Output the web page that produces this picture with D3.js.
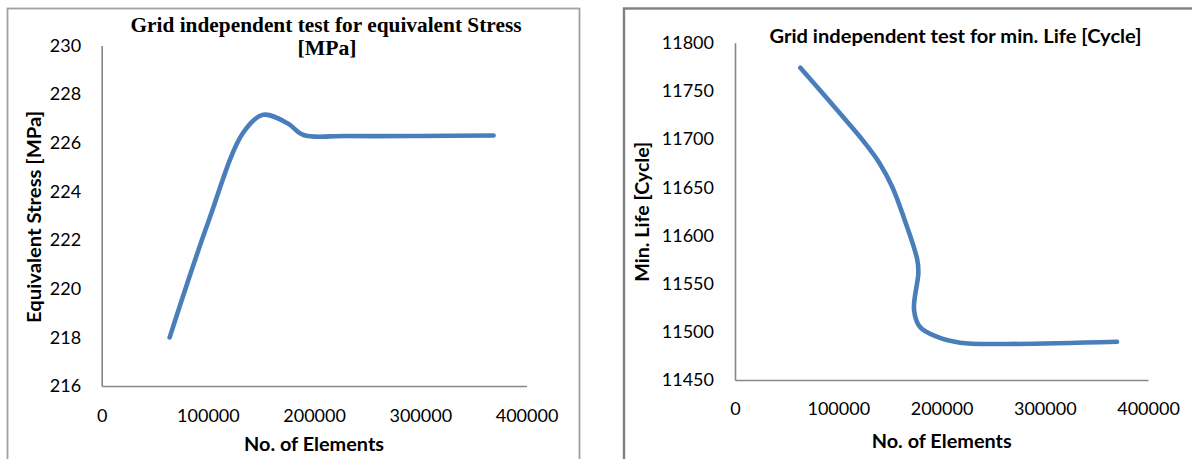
<!DOCTYPE html>
<html>
<head>
<meta charset="utf-8">
<script src="https://cdn.jsdelivr.net/npm/d3@7"></script>
<style>
  html, body { margin: 0; padding: 0; background: #ffffff; }
  svg { display: block; }
  .tick text { font-family: Lato, "Open Sans", sans-serif; font-size: 18px; fill: #000; }
</style>
</head>
<body>
<svg id="chart" width="1192" height="459"></svg>
<script>
// Mesh-convergence study: equivalent stress and minimum fatigue life vs. element count
const xTicks = [0, 100000, 200000, 300000, 400000];

const stressElements = [64000, 100000, 133000, 152000, 175000, 190000, 230000, 300000, 369000];
const stressValues   = [218, 222.7, 226.4, 227.15, 226.8, 226.32, 226.28, 226.28, 226.3];
const stressTicks    = [216, 218, 220, 222, 224, 226, 228, 230];

const lifeElements = [63300, 107000, 125000, 140000, 152000, 165000, 176500, 177600, 173400, 179200, 195400, 218000, 261000, 370000];
const lifeValues   = [11774, 11720, 11697, 11675, 11651, 11614, 11575, 11561, 11523, 11505, 11495, 11488.7, 11487.4, 11489.7];
const lifeTicks    = [11450, 11500, 11550, 11600, 11650, 11700, 11750, 11800];

const lineColor = "#4a7ebb";
const axisColor = "#868686";

const svg = d3.select("#chart");
svg.append("rect").attr("width", 1192).attr("height", 459).attr("fill", "#fff");

function drawPanel(cfg) {
  const g = svg.append("g");

  // chart-area frame
  g.append("rect")
    .attr("x", cfg.frame.x).attr("y", cfg.frame.y)
    .attr("width", cfg.frame.w).attr("height", cfg.frame.h)
    .attr("fill", "none").attr("stroke", cfg.frame.color).attr("stroke-width", cfg.frame.sw);

  const x = d3.scaleLinear().domain([0, 400000]).range([cfg.x0, cfg.x1]);
  const y = d3.scaleLinear().domain(cfg.yDomain).range([cfg.y1, cfg.y0]);

  const xAxis = g.append("g")
    .attr("transform", `translate(0,${cfg.y1})`)
    .call(d3.axisBottom(x).tickValues(xTicks).tickFormat(d3.format("d"))
      .tickSize(0).tickPadding(cfg.xPad));
  const yAxis = g.append("g")
    .attr("transform", `translate(${cfg.x0},0)`)
    .call(d3.axisLeft(y).tickValues(cfg.yTicks).tickFormat(d3.format("d"))
      .tickSize(0).tickPadding(cfg.yPad));

  [xAxis, yAxis].forEach(a => {
    a.select(".domain").attr("stroke", axisColor).attr("stroke-width", 1.6);
    a.selectAll(".tick line").remove();
  });

  const line = d3.line()
    .x((d, i) => x(cfg.xs[i]))
    .y((d, i) => y(cfg.ys[i]))
    .curve(d3.curveCatmullRom.alpha(0.5));

  g.append("path")
    .datum(cfg.ys)
    .attr("d", line)
    .attr("fill", "none")
    .attr("stroke", lineColor)
    .attr("stroke-width", 4.6)
    .attr("stroke-linecap", "round")
    .attr("stroke-linejoin", "round");

  // chart title
  cfg.title.lines.forEach(t => {
    g.append("text")
      .attr("x", t.cx).attr("y", t.y)
      .attr("text-anchor", "middle")
      .attr("font-family", cfg.title.font)
      .attr("font-weight", "bold")
      .attr("font-size", cfg.title.size)
      .attr("textLength", t.len)
      .attr("lengthAdjust", "spacingAndGlyphs")
      .attr("fill", "#000")
      .text(t.text);
  });

  // x-axis title
  g.append("text")
    .attr("x", cfg.xTitle.cx).attr("y", cfg.xTitle.y)
    .attr("text-anchor", "middle")
    .attr("font-family", "Lato, sans-serif")
    .attr("font-weight", "bold").attr("font-size", 19)
    .attr("textLength", cfg.xTitle.len).attr("lengthAdjust", "spacingAndGlyphs")
    .attr("fill", "#000")
    .text("No. of Elements");

  // y-axis title
  g.append("text")
    .attr("transform", `translate(${cfg.yTitle.x},${cfg.yTitle.cy}) rotate(-90)`)
    .attr("text-anchor", "middle")
    .attr("font-family", "Lato, sans-serif")
    .attr("font-weight", "bold").attr("font-size", 19)
    .attr("textLength", cfg.yTitle.len).attr("lengthAdjust", "spacingAndGlyphs")
    .attr("fill", "#000")
    .text(cfg.yTitle.text);
}

drawPanel({
  frame: { x: 7.5, y: 8.5, w: 572, h: 470, color: "#a0a0a0", sw: 1.8 },
  x0: 101.7, x1: 526.5, y0: 45.5, y1: 386,
  yDomain: [216, 230], yTicks: stressTicks,
  xs: stressElements, ys: stressValues,
  xPad: 23, yPad: 20.5,
  title: {
    font: "'Liberation Serif', 'Times New Roman', serif", size: 20,
    lines: [
      { text: "Grid independent test for equivalent Stress", cx: 326, y: 32.3, len: 391 },
      { text: "[MPa]", cx: 327, y: 54.5, len: 59 }
    ]
  },
  xTitle: { cx: 314, y: 450.7, len: 140 },
  yTitle: { x: 41, cy: 217, len: 212, text: "Equivalent Stress [MPa]" }
});

drawPanel({
  frame: { x: 624, y: 8.5, w: 600, h: 470, color: "#808080", sw: 2.4 },
  x0: 735, x1: 1148, y0: 42.7, y1: 380,
  yDomain: [11450, 11800], yTicks: lifeTicks,
  xs: lifeElements, ys: lifeValues,
  xPad: 22.2, yPad: 21,
  title: {
    font: "Lato, sans-serif", size: 18.5,
    lines: [
      { text: "Grid independent test for min. Life [Cycle]", cx: 955.5, y: 43.3, len: 372 }
    ]
  },
  xTitle: { cx: 941.7, y: 448.3, len: 140 },
  yTitle: { x: 649, cy: 211.7, len: 140, text: "Min. Life [Cycle]" }
});
</script>
</body>
</html>
